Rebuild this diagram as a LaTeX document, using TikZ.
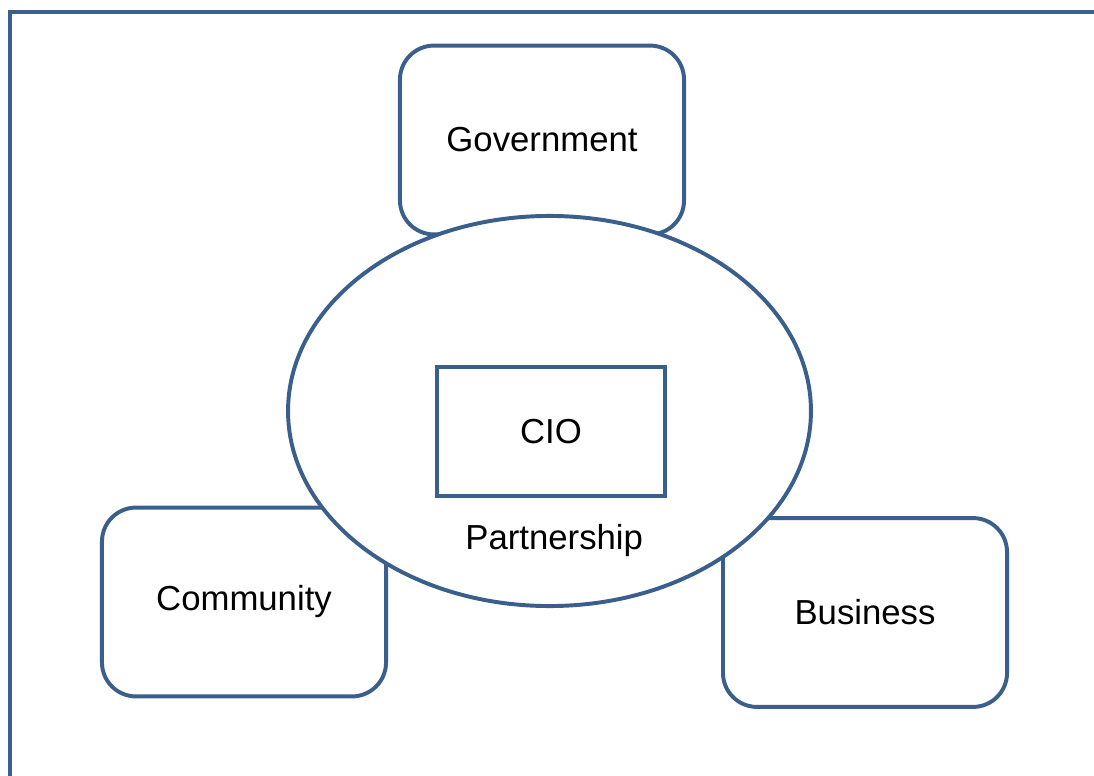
\documentclass[tikz,border=0pt]{standalone}
\usepackage{fontspec}
\setmainfont{Liberation Sans}
\usepackage{xcolor}
\usepackage{tikz}
\usetikzlibrary{shapes, positioning}

\definecolor{frameblue}{RGB}{58,95,141}

\begin{document}
\begin{tikzpicture}[
            x=0.025cm, y=-0.025cm,
            line width=2.8pt,
            party/.style={rectangle, rounded corners=0.85cm, draw=frameblue, fill=white, minimum width=7.1cm, minimum height=4.72cm, font=\fontsize{24.7}{30}\selectfont},
            partner/.style={ellipse, draw=frameblue, fill=white, minimum width=13.07cm, minimum height=9.75cm, inner sep=0pt},
            lead/.style={rectangle, draw=frameblue, fill=white, minimum width=5.7cm, minimum height=3.22cm, font=\fontsize{24.7}{30}\selectfont}
        ]
        \useasboundingbox (0,0) rectangle (1094,776);

        % Frame
        \draw[frameblue] (10,800) -- (10,12) -- (1110,12);

        % Partners
        \node[party] (gov) at (542,140) {Government};
        \node[party] (comm) at (244,602) {Community};
        \node[party] (biz) at (865,612.5) {Business};

        % Partnership
        \node[partner] (partnership) at (549.5,411) {};
        \node[lead] (cio) at (551,431.5) {CIO};
        \node[below=0.5cm of cio, xshift=0.08cm, font=\fontsize{24.7}{30}\selectfont] (plabel) {Partnership};

    \end{tikzpicture}
\end{document}
